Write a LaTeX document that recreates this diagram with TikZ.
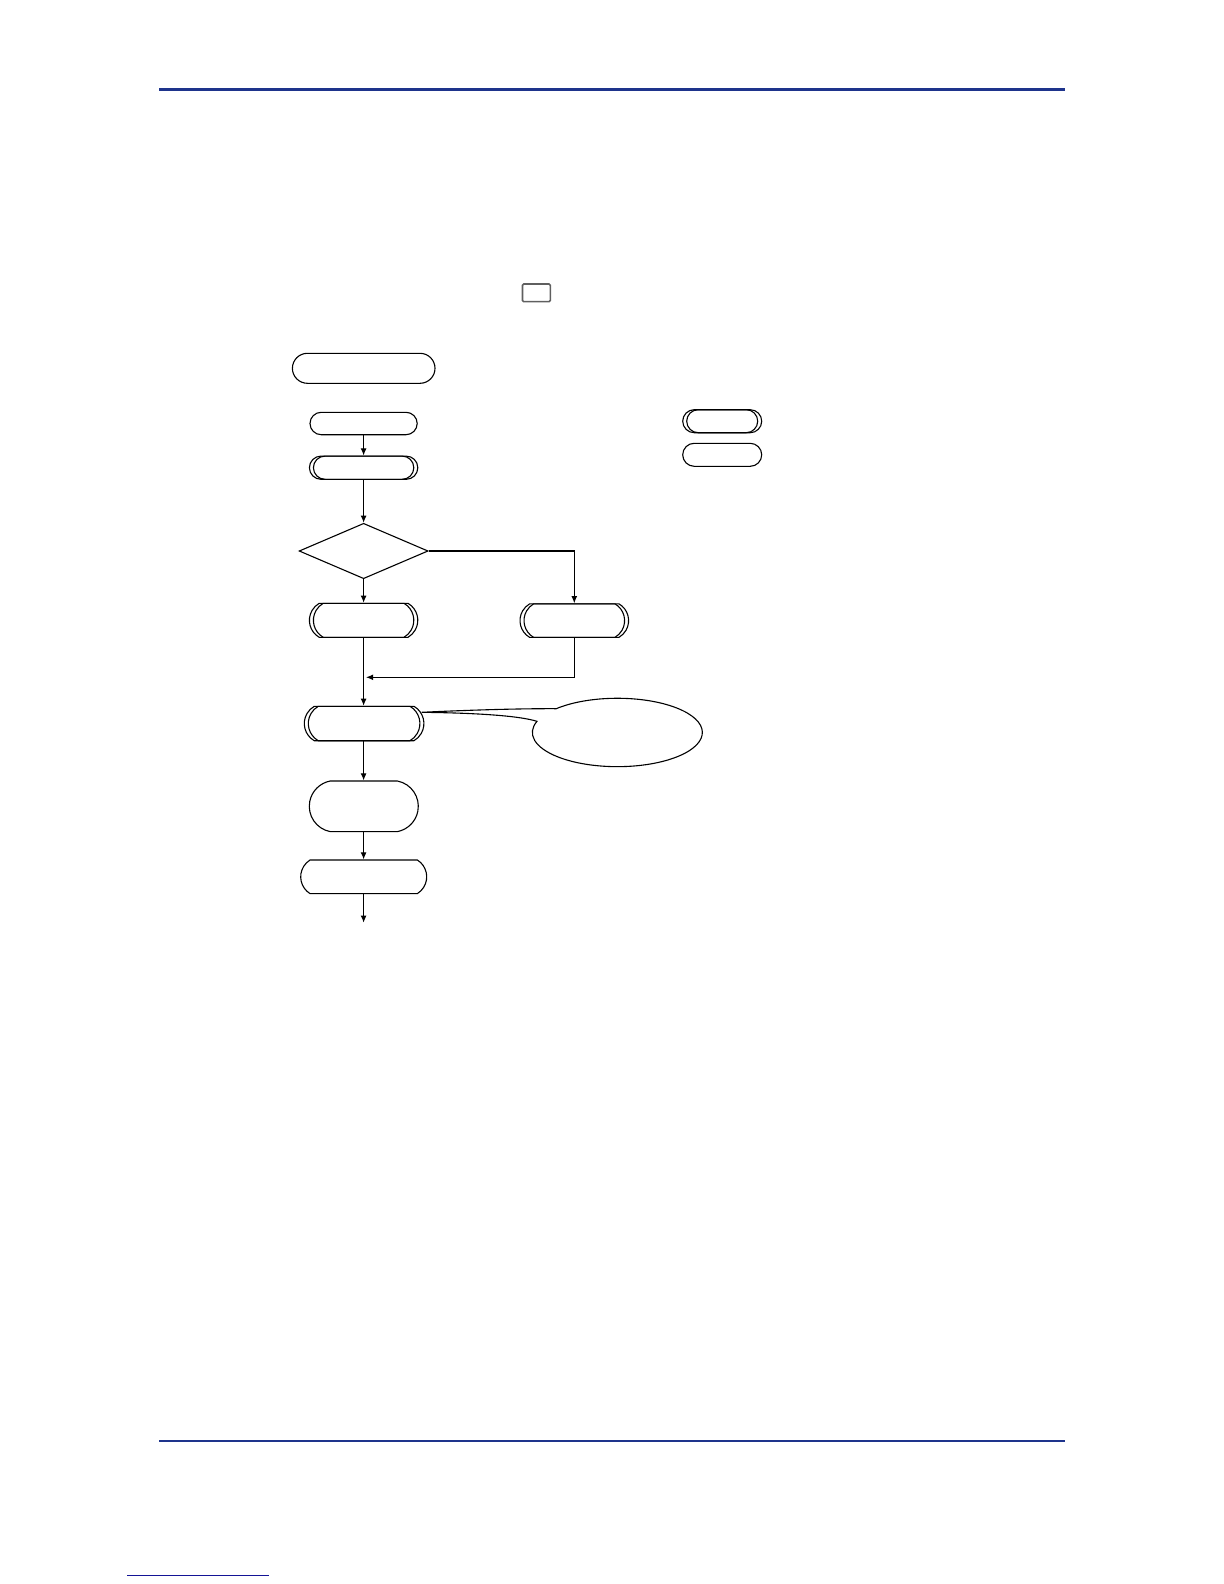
\documentclass[tikz,border=0pt]{standalone}
\usetikzlibrary{arrows.meta,shapes.geometric,shapes.misc}
\definecolor{rulecol}{RGB}{30,52,140}
\definecolor{linkcol}{RGB}{20,20,150}
\definecolor{keygray}{RGB}{95,95,95}
\tikzset{
  x=0.5pt, y=-0.5pt,
  flow/.style={line width=0.55pt, -{Latex[length=3.6pt,width=3pt]}},
  capsule/.style={rounded rectangle, draw, line width=0.55pt, inner sep=0pt, fill=white},
  capinner/.style={rounded rectangle, draw, line width=0.55pt, inner sep=0pt},
  decision/.style={diamond, draw, line width=0.55pt, inner sep=0pt, aspect=2.33},
}
\begin{document}
\begin{tikzpicture}
\useasboundingbox (0,0) rectangle (1224,1584);
% page rules
\fill[rulecol] (159.3,87.7) rectangle (1065,91);
\fill[rulecol] (159,1440.3) rectangle (1065,1441.9);
\draw[linkcol, line width=0.6pt] (127.3,1575.3) -- (269,1575.3);
% small key rectangle
\node[draw=keygray, line width=0.8pt, rounded corners=0.6pt, minimum width=13.9pt, minimum height=8.8pt, inner sep=0pt] (key) at (536.4,292.8) {};
% top capsule
\node[capsule, minimum width=71.3pt, minimum height=15pt] (b0) at (363.7,368.3) {};
% main flow
\node[capsule, minimum width=53.6pt, minimum height=11.2pt] (b1) at (363.6,423.5) {};
\node[capsule, minimum width=54.2pt, minimum height=11.6pt] (b2) at (363.6,467.7) {};
\node[capinner, minimum width=50.2pt, minimum height=11.6pt] (b2i) at (363.6,467.7) {};
\node[decision, minimum width=64.5pt, minimum height=27.7pt] (d) at (363.6,551) {};
\node[capsule, rounded rectangle arc length=120, minimum width=54.2pt, minimum height=17pt] (l) at (363.6,620.3) {};
\node[capinner, rounded rectangle arc length=120, minimum width=50.2pt, minimum height=17pt] (li) at (363.6,620.3) {};
\node[capsule, rounded rectangle arc length=120, minimum width=54.3pt, minimum height=16.8pt] (r) at (574.3,620.6) {};
\node[capinner, rounded rectangle arc length=120, minimum width=50.3pt, minimum height=16.8pt] (ri) at (574.3,620.6) {};
\node[capsule, rounded rectangle arc length=120, minimum width=59.8pt, minimum height=17.2pt] (b4) at (364.1,723.5) {};
\node[capinner, rounded rectangle arc length=120, minimum width=55.8pt, minimum height=17.2pt] (b4i) at (364.1,723.5) {};
\node[capsule, rounded rectangle arc length=158, minimum width=54.5pt, minimum height=25.3pt] (b5) at (363.8,806.3) {};
\node[capsule, rounded rectangle arc length=116, minimum width=63pt, minimum height=16.8pt] (b6) at (363.7,876.8) {};
\coordinate (endp) at (363.6,922.7);
\coordinate (merge) at (366,677.3);
% legend capsules
\node[capsule, minimum width=39.5pt, minimum height=11.5pt] (k1) at (722.2,421.2) {};
\node[capinner, minimum width=35.5pt, minimum height=11.5pt] (k1i) at (722.2,421.2) {};
\node[capsule, minimum width=39.5pt, minimum height=11.5pt] (k2) at (722.2,454.8) {};
% connectors
\draw[flow] (b1.south) -- (b1.south |- b2.north);
\draw[flow] (b2.south) -- (b2.south |- d.north);
\draw[flow] (d.south) -- (d.south |- l.north);
\draw[flow] (d.east) -| (r.north);
\draw[flow] (l.south) -- (l.south |- b4.north);
\draw[flow] (r.south) |- (merge);
\draw[flow] (l.south |- b4.south) -- (l.south |- b5.north);
\draw[flow] (l.south |- b5.south) -- (l.south |- b6.north);
\draw[flow] (l.south |- b6.south) -- (endp);
% callout
\node[ellipse, minimum width=85pt, minimum height=34.2pt, inner sep=0pt] (call) at (617.3,732.5) {};
\coordinate (tip) at (421.7,712.3);
\draw[line width=0.55pt, fill=white] (tip) .. controls (470,710) and (520,708.5) .. (556.2,708.7)
  arc[start angle=224, end angle=559, x radius=85, y radius=34.2]
  .. controls (520,716) and (480,713) .. (tip);
\end{tikzpicture}
\end{document}
